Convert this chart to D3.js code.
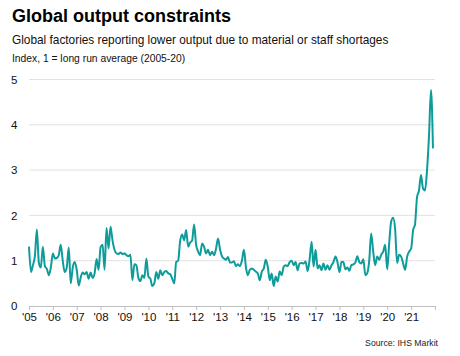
<!DOCTYPE html>
<html>
<head>
<meta charset="utf-8">
<script src="https://cdn.jsdelivr.net/npm/d3@7"></script>
<style>
  html, body { margin: 0; padding: 0; background: #fff; }
  svg { display: block; font-family: "Liberation Sans", Arial, sans-serif; }
</style>
</head>
<body>
<svg id="chart" width="460" height="356"></svg>
<script>
// ---- data ----
const startYear = 2005;
const values2005 = [1.31, 0.75, 0.9, 1.1, 1.69, 0.95, 0.85, 1.31, 0.88, 0.82, 0.68, 0.85];
const values2006 = [1.16, 1.05, 1.06, 1.12, 1.35, 1.0, 0.75, 0.85, 1.29, 0.5, 0.85, 0.97];
const values2007 = [0.8, 0.45, 0.62, 0.74, 0.7, 0.75, 0.6, 0.74, 0.62, 0.72, 1.04, 0.8];
const values2008 = [1.3, 1.35, 0.8, 1.72, 1.27, 1.75, 1.45, 1.24, 1.16, 1.15, 1.18, 1.15];
const values2009 = [1.16, 1.12, 1.1, 1.13, 0.57, 0.92, 0.9, 0.62, 0.55, 0.68, 0.62, 1.05];
const values2010 = [0.65, 0.6, 0.44, 0.5, 0.75, 0.6, 0.79, 0.68, 0.75, 0.77, 0.72, 0.7];
const values2011 = [0.6, 0.5, 0.97, 1.0, 1.43, 1.58, 1.45, 1.68, 1.31, 1.4, 1.45, 1.8];
const values2012 = [1.35, 1.2, 1.12, 1.38, 1.31, 1.16, 1.24, 1.12, 1.2, 1.12, 1.27, 1.49];
const values2013 = [1.24, 1.09, 1.05, 1.02, 1.08, 0.96, 0.96, 0.99, 0.88, 0.92, 0.88, 1.0];
const values2014 = [1.24, 0.85, 0.68, 0.8, 0.83, 0.8, 0.76, 0.72, 0.57, 0.76, 0.83, 1.02];
const values2015 = [0.86, 0.57, 0.72, 0.44, 0.65, 0.54, 0.76, 0.68, 0.87, 0.9, 0.88, 0.97];
const values2016 = [1.0, 0.9, 0.97, 0.79, 0.94, 0.95, 0.94, 0.98, 0.77, 1.02, 1.42, 0.87];
const values2017 = [1.24, 0.83, 0.9, 0.79, 0.94, 0.8, 0.9, 0.8, 0.9, 0.97, 1.09, 0.97];
const values2018 = [0.75, 0.97, 0.97, 0.81, 0.85, 0.78, 0.9, 0.92, 0.96, 1.1, 0.97, 0.94];
const values2019 = [1.03, 0.68, 0.72, 1.0, 1.6, 1.2, 0.9, 1.09, 1.02, 1.13, 1.2, 1.35];
const values2020 = [0.81, 1.4, 1.86, 1.95, 1.7, 0.95, 1.13, 1.09, 0.94, 0.8, 1.09, 1.2];
const values2021 = [1.27, 1.68, 1.8, 2.4, 2.55, 2.89, 2.6, 2.55, 3.0, 3.75, 4.77, 3.48];

const yTicks = [0, 1, 2, 3, 4, 5];
const xTickYears = d3.range(2005, 2023);
const xTickLabels = ["'05","'06","'07","'08","'09","'10","'11","'12","'13","'14","'15","'16","'17","'18","'19","'20","'21",""];

const title = "Global output constraints";
const subtitle = "Global factories reporting lower output due to material or staff shortages";
const unitNote = "Index, 1 = long run average (2005-20)";
const source = "Source: IHS Markit";

const allValues = [values2005, values2006, values2007, values2008, values2009, values2010,
  values2011, values2012, values2013, values2014, values2015, values2016, values2017,
  values2018, values2019, values2020, values2021].flat();
const series = allValues.map((v, i) => ({ date: new Date(startYear, i, 1), value: v }));

// ---- layout ----
const svg = d3.select("#chart");
const plotLeft = 29, plotRight = 435, plotTop = 79.5, plotBottom = 306;

const x = d3.scaleTime()
  .domain([new Date(2005, 0, 1), new Date(2022, 0, 1)])
  .range([plotLeft, plotRight]);
const y = d3.scaleLinear().domain([0, 5]).range([plotBottom, plotTop]);

// titles
svg.append("text").attr("x", 12).attr("y", 22)
  .attr("font-size", 18).attr("font-weight", "bold").attr("fill", "#000")
  .text(title);
svg.append("text").attr("x", 12).attr("y", 43.5)
  .attr("font-size", 11.85).attr("fill", "#111")
  .text(subtitle);
svg.append("text").attr("x", 12).attr("y", 61.5)
  .attr("font-size", 10.3).attr("fill", "#111")
  .text(unitNote);

// gridlines
svg.append("g").selectAll("line")
  .data(yTicks.filter(d => d > 0))
  .join("line")
  .attr("x1", plotLeft).attr("x2", plotRight)
  .attr("y1", d => y(d)).attr("y2", d => y(d))
  .attr("stroke", "#e2e2e2").attr("stroke-width", 1);

// y axis labels
const yAxis = svg.append("g")
  .attr("transform", `translate(${plotLeft - 11.5},0)`)
  .call(d3.axisLeft(y).tickValues(yTicks).tickSize(0).tickPadding(0).tickFormat(d3.format("d")));
yAxis.select(".domain").remove();
yAxis.selectAll("text").attr("font-size", 11.5).attr("fill", "#111")
  .attr("font-family", "'Liberation Sans', Arial, sans-serif");

// x axis
const xAxis = svg.append("g")
  .attr("transform", `translate(0,${plotBottom})`)
  .call(d3.axisBottom(x)
    .tickValues(xTickYears.map(yr => new Date(yr, 0, 1)))
    .tickSize(4).tickSizeOuter(0).tickPadding(3)
    .tickFormat((d, i) => xTickLabels[i]));
xAxis.select(".domain").attr("stroke", "#bfbfbf");
xAxis.selectAll(".tick line").attr("stroke", "#bfbfbf");
xAxis.selectAll("text").attr("font-size", 11.5).attr("fill", "#111")
  .attr("font-family", "'Liberation Sans', Arial, sans-serif");

// line
const line = d3.line()
  .x(d => x(d.date))
  .y(d => y(d.value))
  .curve(d3.curveMonotoneX);
svg.append("path")
  .datum(series)
  .attr("d", line)
  .attr("fill", "none")
  .attr("stroke", "#0e9c9b")
  .attr("stroke-width", 2)
  .attr("stroke-linejoin", "round");

// source
svg.append("text").attr("x", 438).attr("y", 345.5)
  .attr("text-anchor", "end").attr("font-size", 8.7).attr("fill", "#222")
  .text(source);
</script>
</body>
</html>
